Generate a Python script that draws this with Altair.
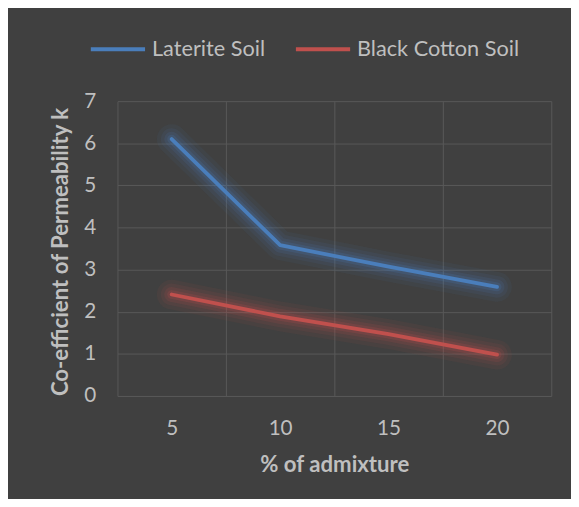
import altair as alt
import pandas as pd

admixture = [5, 10, 15, 20]
laterite = [6.1, 3.58, 3.07, 2.59]
black_cotton = [2.41, 1.89, 1.47, 0.98]
series_names = ["Laterite Soil", "Black Cotton Soil"]
series_colors = ["#4a7ebb", "#c0504d"]
y_ticks = [0, 1, 2, 3, 4, 5, 6, 7]
x_bounds = [2.5, 7.5, 12.5, 17.5, 22.5]

rows = []
for name, vals in zip(series_names, [laterite, black_cotton]):
    for a, v in zip(admixture, vals):
        rows.append({"admixture": a, "k": v, "series": name})
df = pd.DataFrame(rows)

FONT = "Lato"
TXT = "#bfbfbf"
GRID = "#585858"

xscale = alt.Scale(domain=[2.5, 22.5], nice=False, zero=False)
yscale = alt.Scale(domain=[0, 7], nice=False)
cscale = alt.Scale(domain=series_names, range=series_colors)

base = alt.Chart(df)


def glow(width, opacity, xaxis=None):
    return base.mark_line(strokeWidth=width, opacity=opacity, strokeCap="round",
                          strokeJoin="round").encode(
        x=alt.X("admixture:Q", scale=xscale, axis=xaxis),
        y=alt.Y("k:Q", scale=yscale, axis=None),
        color=alt.Color("series:N", scale=cscale, sort=series_names, legend=None),
    )


grid_axis = alt.Axis(values=x_bounds, orient="top", grid=True, gridColor=GRID,
                     gridWidth=1, labels=False, ticks=False, domain=False, title=None)

g1 = glow(30, 0.07, grid_axis)
g2 = glow(22, 0.09)
g3 = glow(15, 0.13)
g4 = glow(9, 0.18)

main = base.mark_line(strokeWidth=3.8, strokeCap="round", strokeJoin="round").encode(
    x=alt.X("admixture:Q", scale=xscale,
            axis=alt.Axis(values=admixture, title="% of admixture", grid=False,
                          ticks=False, domain=False, labelPadding=39.5,
                          labelBaseline="alphabetic", titleBaseline="alphabetic",
                          titleY=77)),
    y=alt.Y("k:Q", scale=yscale,
            axis=alt.Axis(values=y_ticks, title="Co-efficient of Permeability k",
                          grid=True, gridColor=GRID, gridWidth=1, ticks=False,
                          domain=False, labelPadding=22, titleX=-50.5, titleY=152.5,
                          titleBaseline="alphabetic")),
    color=alt.Color("series:N", scale=cscale, sort=series_names,
                    legend=alt.Legend(orient="none", legendX=-29, legendY=-82.5,
                                      direction="horizontal", title=None,
                                      symbolType="stroke", symbolSize=3025,
                                      symbolStrokeWidth=4, labelFont=FONT,
                                      labelFontSize=22, labelColor=TXT,
                                      labelLimit=400,
                                      labelOffset=5, columnPadding=23)),
)

chart = alt.layer(g1, g2, g3, g4, main).resolve_scale(
    color="independent"
).resolve_axis(
    x="independent", y="independent"
).properties(
    width=440,
    height=299,
    background="#404040",
    padding={"left": 111, "top": 91, "right": 20, "bottom": 101},
    autosize=alt.AutoSizeParams(type="none"),
).configure_view(stroke=None).configure_axis(
    labelFont=FONT, labelFontSize=21, labelColor=TXT,
    titleFont=FONT, titleFontSize=22.5, titleFontWeight="bold", titleColor=TXT,
)

chart.save("out.html", embed_options={"renderer": "svg", "actions": False})
